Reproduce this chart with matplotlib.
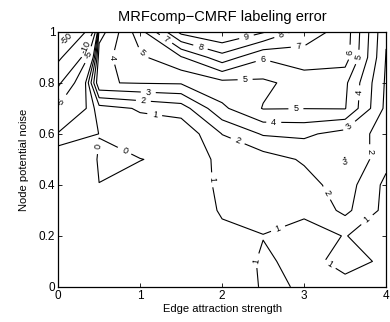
import numpy as np
import matplotlib
matplotlib.use('Agg')
import matplotlib.pyplot as plt

plt.rcParams['font.family'] = ['Liberation Sans', 'DejaVu Sans']

# grid of the measurement
edge_strength = [0, 0.5, 1, 1.5, 2, 2.5, 3, 3.5, 4]
node_noise = [0, 0.1, 0.2, 0.3, 0.4, 0.5, 0.6, 0.7, 0.8, 0.9, 1.0]

# error difference, one row per noise value (bottom to top)
err_00 = [0.3, 0.3, 0.3, 0.3, 0.2, 1.1, 0.95, 0.8, 0.8]
err_01 = [0.3, 0.3, 0.3, 0.3, 0.5, 1.1, 0.8, 1.2, 0.9]
err_02 = [0.3, 0.3, 0.3, 0.4, 0.8, 0.98, 0.8, 1.02, 0.7]
err_03 = [0.3, 0.3, 0.3, 0.3, 1.1, 1.3, 1.1, 2.25, 0.7]
err_04 = [0.3, 0.005, 0.3, 0.2, 1.25, 1.5, 1.6, 2.5, 0.75]
err_05 = [0.9, -0.05, -0.02, 0.2, 1.3, 1.5, 2.13, 3.05, 1.3]
err_06 = [-0.8, 0.01, 0.5, 0.2, 2.02, 3.1, 3.2, 2.6, 1.6]
err_07 = [-4.5, 0.6, 1.1, 1.5, 3.8, 5.05, 5.02, 5.05, 1.75]
err_08 = [-11, 3.95, 4.05, 4.1, 4.7, 4.8, 5.4, 5.2, 1.85]
err_09 = [-28, 3.6, 4.8, 5.9, 7.6, 6.1, 6.6, 6.5, 1.95]
err_10 = [-80, 2.5, 5.6, 9.3, 10.05, 9.1, 7.5, 6.6, 2.1]

levels = [-50, -25, -10, -5, -1, 0, 1, 2, 3, 4, 5, 6, 7, 8, 9, 10]

# where the inline labels go
label_pos = [(0.12, 0.97), (0.29, 0.95), (0.37, 0.91), (0.61, 0.9),
             (1.04, 0.92), (1.3, 0.965), (1.73, 0.933), (2.29, 0.99),
             (2.72, 0.99), (2.93, 0.94), (2.5, 0.89), (2.28, 0.82),
             (3.57, 0.92), (3.7, 0.9), (3.72, 0.76), (2.9, 0.7),
             (2.63, 0.65), (3.54, 0.635), (1.1, 0.765), (1.04, 0.73),
             (1.18, 0.68), (2.2, 0.58), (3.23, 0.36), (3.8, 0.53),
             (3.5, 0.49), (1.89, 0.42), (2.68, 0.23), (3.75, 0.27),
             (3.33, 0.1), (2.45, 0.1), (0.49, 0.55), (0.85, 0.56),
             (0.06, 0.72)]

Z = np.array([err_00, err_01, err_02, err_03, err_04, err_05,
              err_06, err_07, err_08, err_09, err_10])
X, Y = np.meshgrid(edge_strength, node_noise)

fig = plt.figure(figsize=(3.9, 3.22), dpi=100)
ax = fig.add_axes([0.149, 0.109, 0.841, 0.792])

cs = ax.contour(X, Y, Z, levels=levels, colors='k', linewidths=0.8,
                negative_linestyles='solid')
ax.clabel(cs, manual=label_pos, inline=True, fontsize=6.5, fmt='%d')

ax.set_xlim(0, 4)
ax.set_ylim(0, 1)
ax.set_xticks([0, 1, 2, 3, 4])
ax.set_yticks([0, 0.2, 0.4, 0.6, 0.8, 1])
ax.set_yticklabels(['0', '0.2', '0.4', '0.6', '0.8', '1'])
ax.tick_params(direction='in', top=True, right=True, labelsize=8.5,
               length=3, width=0.6, pad=2)
for s in ax.spines.values():
    s.set_linewidth(0.9)

ax.set_title('MRFcomp\u2212CMRF labeling error', fontsize=10.5, pad=8)
ax.set_xlabel('Edge attraction strength', fontsize=8, labelpad=1.5)
ax.set_ylabel('Node potential noise', fontsize=8, labelpad=7)

fig.savefig('out.png', dpi=100)
